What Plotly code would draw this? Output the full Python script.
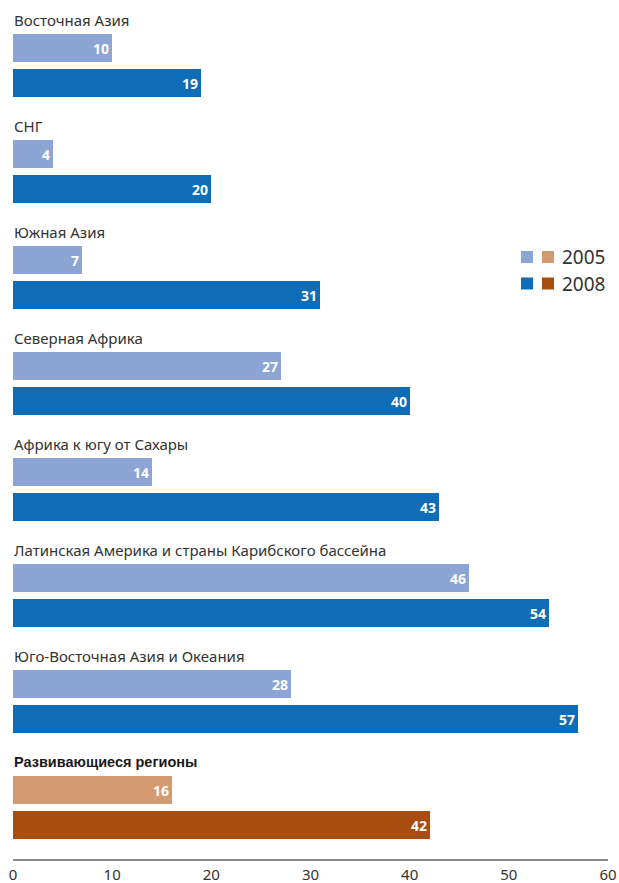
import plotly.graph_objects as go

regions = [
    "Восточная Азия",
    "СНГ",
    "Южная Азия",
    "Северная Африка",
    "Африка к югу от Сахары",
    "Латинская Америка и страны Карибского бассейна",
    "Юго-Восточная Азия и Океания",
    "Развивающиеся регионы",
]
values_2005 = [10, 4, 7, 27, 14, 46, 28, 16]
values_2008 = [19, 20, 31, 40, 43, 54, 57, 42]
years = ["2005", "2008"]
x_ticks = [0, 10, 20, 30, 40, 50, 60]

# styles
C05 = "#8CA5D5"
C08 = "#0F6CB6"
C05_TOT = "#D49A72"
C08_TOT = "#A84C10"
TXT = "#333333"

W, H = 619, 883
ML, MR, MT, MB = 13, 11, 0, 24
PITCH, LABEL0, OFF1, OFF2, BARH = 106, 20, 28, 63, 28

n = len(regions)
label_y = [LABEL0 + PITCH * i for i in range(n)]
y05 = [v + OFF1 for v in label_y]
y08 = [v + OFF2 for v in label_y]

cols05 = [C05] * (n - 1) + [C05_TOT]
cols08 = [C08] * (n - 1) + [C08_TOT]

fig = go.Figure()
for ys, vals, cols, name in [(y05, values_2005, cols05, years[0]), (y08, values_2008, cols08, years[1])]:
    fig.add_trace(go.Bar(
        x=vals, y=ys, orientation="h", width=BARH,
        marker=dict(color=cols, line=dict(width=0)),
        text=[str(v) for v in vals], textposition="inside",
        insidetextanchor="end", constraintext="none",
        textfont=dict(family="Noto Sans, sans-serif", size=14, color="white", weight="bold"),
        name=name, showlegend=False, hoverinfo="skip",
    ))

for i, (lbl, ly) in enumerate(zip(regions, label_y)):
    last = i == n - 1
    fig.add_annotation(
        x=0, y=ly, xref="x", yref="y", text=lbl, showarrow=False,
        xanchor="left", yanchor="middle", xshift=-1,
        font=dict(
            family=("Liberation Sans, Arial, sans-serif" if last else "Noto Sans, sans-serif"),
            size=14.5 if last else 15, color="#1a1a1a" if last else TXT,
            weight="bold" if last else "normal"),
    )

# legend (custom: two swatches per row)
def px2x(px):
    return (px - ML) / (W - ML - MR) * 60

legend_rows = [(257, C05, C05_TOT, years[0]), (283.5, C08, C08_TOT, years[1])]
for cy, ca, cb, txt in legend_rows:
    for x0, c in [(521, ca), (542, cb)]:
        fig.add_shape(type="rect", xref="x", yref="y",
                      x0=px2x(x0), x1=px2x(x0 + 12), y0=cy - 6, y1=cy + 6,
                      fillcolor=c, line=dict(width=0))
    fig.add_annotation(x=px2x(560), y=cy, xref="x", yref="y", text=txt, showarrow=False,
                       xanchor="left", yanchor="middle",
                       font=dict(family="Noto Sans, sans-serif", size=19, color=TXT))

fig.update_layout(
    width=W, height=H, margin=dict(l=ML, r=MR, t=MT, b=MB, autoexpand=False),
    plot_bgcolor="white", paper_bgcolor="white",
    barmode="overlay", bargap=0,
    xaxis=dict(range=[0, 60], tickvals=x_ticks, showgrid=False, zeroline=False,
               showline=True, linecolor="#8a8a8a", linewidth=2, ticks="",
               ticklabelstandoff=1, automargin=False,
               tickfont=dict(family="Noto Sans, sans-serif", size=15, color=TXT),
               fixedrange=True),
    yaxis=dict(range=[H - MB, 0], showticklabels=False, showgrid=False,
               zeroline=False, showline=False, fixedrange=True, automargin=False),
    showlegend=False,
)

fig.write_html("out.html", config={"displayModeBar": False},
               post_script="document.body.style.margin='0';document.body.style.overflow='hidden';")
